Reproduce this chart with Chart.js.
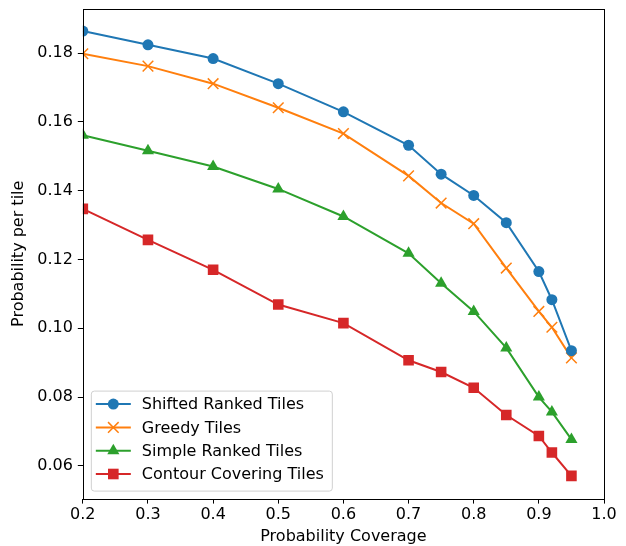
<!DOCTYPE html>
<html>
<head>
<meta charset="utf-8">
<script src="https://cdn.jsdelivr.net/npm/chart.js@4"></script>
<style>
  html, body { margin: 0; padding: 0; background: #fff; }
  #wrap { width: 626px; height: 546px; }
</style>
</head>
<body>
<div id="wrap"><canvas id="grafico" width="626" height="546"></canvas></div>
<script>
// datos
const cobertura = [0.2, 0.3, 0.4, 0.5, 0.6, 0.7, 0.75, 0.8, 0.85, 0.9, 0.92, 0.95];
const shiftedRanked = [0.1864, 0.1824, 0.1784, 0.1711, 0.1629, 0.1532, 0.1448, 0.1386, 0.1307, 0.1165, 0.1083, 0.0935];
const greedy = [0.1798, 0.1762, 0.1711, 0.1641, 0.1566, 0.1443, 0.1364, 0.1304, 0.1175, 0.1049, 0.1003, 0.0914];
const simpleRanked = [0.1561, 0.1516, 0.1470, 0.1405, 0.1325, 0.1218, 0.1131, 0.1049, 0.0943, 0.0800, 0.0757, 0.0677];
const contour = [0.1347, 0.1257, 0.1170, 0.1069, 0.1015, 0.0907, 0.0873, 0.0827, 0.0748, 0.0687, 0.0639, 0.0571];

const nombres = ['Shifted Ranked Tiles', 'Greedy Tiles', 'Simple Ranked Tiles', 'Contour Covering Tiles'];
const xTicks = [0.2, 0.3, 0.4, 0.5, 0.6, 0.7, 0.8, 0.9, 1.0];
const yTicks = [0.06, 0.08, 0.10, 0.12, 0.14, 0.16, 0.18];

const fuente = 'DejaVu Sans';
const tam = 16;

function serie(valores){
    return valores.map((v, i) => ({x: cobertura[i], y: v}));
}

const estilos = [
    {color: '#1f77b4', forma: 'circle', radio: 5.5},
    {color: '#ff7f0e', forma: 'crossRot', radio: 7.5},
    {color: '#2ca02c', forma: 'triangle', radio: 7},
    {color: '#d62728', forma: 'rect', radio: 7.5}
];
const valores = [shiftedRanked, greedy, simpleRanked, contour];

const datasets = valores.map((v, i) => ({
    label: nombres[i],
    data: serie(v),
    borderColor: estilos[i].color,
    backgroundColor: estilos[i].color,
    borderWidth: 2,
    pointStyle: estilos[i].forma,
    pointRadius: estilos[i].radio,
    pointBorderWidth: i == 1 ? 1.5 : 0,
    pointBorderColor: estilos[i].color,
    tension: 0
}));

// marco y leyenda dentro del area
const marco = {
    id: 'marco',
    afterDraw(chart){
        const ctx = chart.ctx;
        const a = chart.chartArea;
        ctx.save();
        ctx.strokeStyle = '#000';
        ctx.lineWidth = 1;
        ctx.strokeRect(Math.round(a.left) + 0.5, Math.round(a.top) + 0.5, Math.round(a.right - a.left), Math.round(a.bottom - a.top));

        // leyenda
        const lx = a.left + 8, ly = a.bottom - 108, lw = 241, lh = 100;
        ctx.beginPath();
        ctx.roundRect(lx + 0.5, ly + 0.5, lw, lh, 3);
        ctx.fillStyle = 'rgba(255,255,255,0.8)';
        ctx.fill();
        ctx.strokeStyle = '#d0d0d0';
        ctx.stroke();
        ctx.font = tam + 'px "' + fuente + '"';
        ctx.textBaseline = 'middle';
        ctx.textAlign = 'left';
        for (let i = 0; i < nombres.length; i++) {
            const y = ly + 13.5 + i * 23.3;
            const x0 = lx + 5, x1 = lx + 40;
            ctx.strokeStyle = estilos[i].color;
            ctx.lineWidth = 2;
            ctx.beginPath();
            ctx.moveTo(x0, y);
            ctx.lineTo(x1, y);
            ctx.stroke();
            ctx.fillStyle = estilos[i].color;
            ctx.lineWidth = 1.5;
            Chart.helpers.drawPoint(ctx, {pointStyle: estilos[i].forma, radius: estilos[i].radio, rotation: 0, borderWidth: i == 1 ? 1.5 : 0}, (x0 + x1) / 2, y);
            ctx.fillStyle = '#000';
            ctx.fillText(nombres[i], lx + 51, y + 1);
        }
        ctx.restore();
    }
};

const config = {
    type: 'line',
    data: {datasets: datasets},
    options: {
        responsive: false,
        animation: false,
        layout: {padding: {left: 9, right: 22, top: 7, bottom: 0}},
        plugins: {
            legend: {display: false},
            tooltip: {enabled: false}
        },
        scales: {
            x: {
                type: 'linear',
                min: 0.2,
                max: 1.0,
                afterBuildTicks: (axis) => { axis.ticks = xTicks.map(v => ({value: v})); },
                ticks: {
                    color: '#000',
                    font: {family: fuente, size: tam},
                    padding: 2,
                    maxRotation: 0,
                    callback: (v) => v.toFixed(1)
                },
                grid: {drawOnChartArea: false, drawTicks: true, tickLength: 5, color: '#000'},
                border: {display: false},
                title: {display: true, text: 'Probability Coverage', color: '#000', font: {family: fuente, size: tam}, padding: {top: 0, bottom: 0}}
            },
            y: {
                type: 'linear',
                min: 0.0505,
                max: 0.1928,
                afterBuildTicks: (axis) => { axis.ticks = yTicks.map(v => ({value: v})); },
                afterFit: (axis) => { axis.paddingTop = 0; axis.paddingBottom = 0; },
                ticks: {
                    color: '#000',
                    font: {family: fuente, size: tam},
                    padding: 5,
                    callback: (v) => v.toFixed(2)
                },
                grid: {drawOnChartArea: false, drawTicks: true, tickLength: 5, color: '#000'},
                border: {display: false},
                title: {display: true, text: 'Probability per tile', color: '#000', font: {family: fuente, size: tam}, padding: {top: 0, bottom: 4}}
            }
        }
    },
    plugins: [marco]
};

const grafico = new Chart(document.getElementById('grafico'), config);
</script>
</body>
</html>
